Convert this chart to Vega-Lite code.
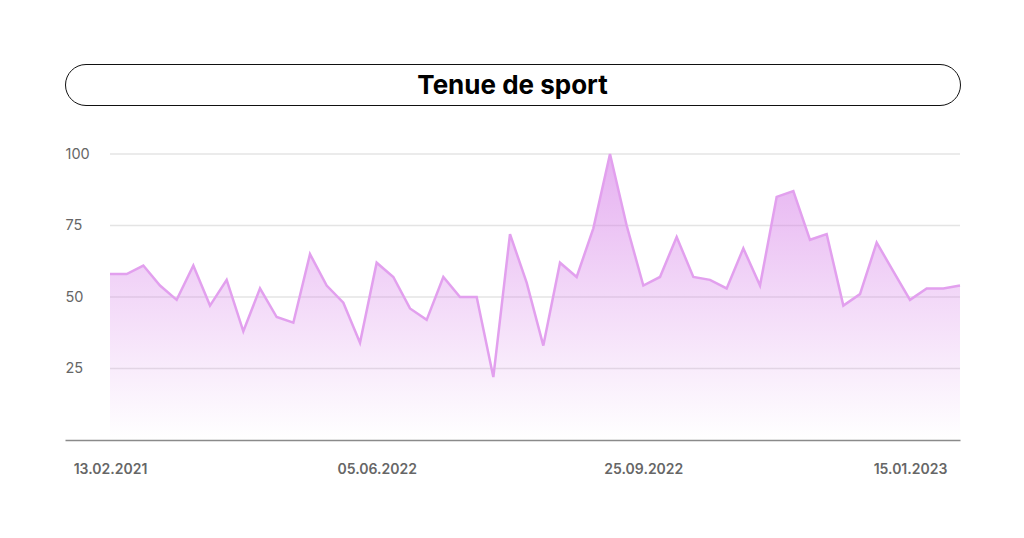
{
  "$schema": "https://vega.github.io/schema/vega-lite/v6.json",
  "background": "white",
  "padding": {"top": 63, "left": 64, "right": 65, "bottom": 5},
  "config": {
    "view": {"stroke": null},
    "font": "Inter"
  },
  "datasets": {
    "trend": [
      {"week": "2022-02-13", "value": 58},
      {"week": "2022-02-20", "value": 58},
      {"week": "2022-02-27", "value": 61},
      {"week": "2022-03-06", "value": 54},
      {"week": "2022-03-13", "value": 49},
      {"week": "2022-03-20", "value": 61},
      {"week": "2022-03-27", "value": 47},
      {"week": "2022-04-03", "value": 56},
      {"week": "2022-04-10", "value": 38},
      {"week": "2022-04-17", "value": 53},
      {"week": "2022-04-24", "value": 43},
      {"week": "2022-05-01", "value": 41},
      {"week": "2022-05-08", "value": 65},
      {"week": "2022-05-15", "value": 54},
      {"week": "2022-05-22", "value": 48},
      {"week": "2022-05-29", "value": 34},
      {"week": "2022-06-05", "value": 62},
      {"week": "2022-06-12", "value": 57},
      {"week": "2022-06-19", "value": 46},
      {"week": "2022-06-26", "value": 42},
      {"week": "2022-07-03", "value": 57},
      {"week": "2022-07-10", "value": 50},
      {"week": "2022-07-17", "value": 50},
      {"week": "2022-07-24", "value": 22},
      {"week": "2022-07-31", "value": 72},
      {"week": "2022-08-07", "value": 55},
      {"week": "2022-08-14", "value": 33},
      {"week": "2022-08-21", "value": 62},
      {"week": "2022-08-28", "value": 57},
      {"week": "2022-09-04", "value": 74},
      {"week": "2022-09-11", "value": 100},
      {"week": "2022-09-18", "value": 75},
      {"week": "2022-09-25", "value": 54},
      {"week": "2022-10-02", "value": 57},
      {"week": "2022-10-09", "value": 71},
      {"week": "2022-10-16", "value": 57},
      {"week": "2022-10-23", "value": 56},
      {"week": "2022-10-30", "value": 53},
      {"week": "2022-11-06", "value": 67},
      {"week": "2022-11-13", "value": 54},
      {"week": "2022-11-20", "value": 85},
      {"week": "2022-11-27", "value": 87},
      {"week": "2022-12-04", "value": 70},
      {"week": "2022-12-11", "value": 72},
      {"week": "2022-12-18", "value": 47},
      {"week": "2022-12-25", "value": 51},
      {"week": "2023-01-01", "value": 69},
      {"week": "2023-01-08", "value": 59},
      {"week": "2023-01-15", "value": 49},
      {"week": "2023-01-22", "value": 53},
      {"week": "2023-01-29", "value": 53},
      {"week": "2023-02-05", "value": 54}
    ]
  },
  "vconcat": [
    {
      "width": 895,
      "height": 41,
      "view": {"stroke": "#111111", "strokeWidth": 1, "cornerRadius": 20.5, "fill": "white"},
      "data": {"values": [{"t": "Tenue de sport"}]},
      "mark": {"type": "text", "fontSize": 26, "fontWeight": 700, "color": "#000000", "align": "center", "baseline": "middle", "font": "Inter", "dy": 1},
      "encoding": {"text": {"field": "t", "type": "nominal"}}
    },
    {
      "width": 895,
      "height": 286,
      "layer": [
        {
          "data": {"values": [{"g": 25}, {"g": 50}, {"g": 75}, {"g": 100}]},
          "mark": {"type": "rule", "color": "#e4e4e4", "strokeWidth": 1.5},
          "encoding": {
            "y": {"field": "g", "type": "quantitative"},
            "x": {"datum": {"year": 2022, "month": 2, "date": 13, "utc": true}, "type": "temporal"},
            "x2": {"datum": {"year": 2023, "month": 2, "date": 5, "utc": true}}
          }
        },
        {
          "data": {"name": "trend"},
          "mark": {
            "type": "area",
            "color": {
              "gradient": "linear",
              "x1": 0, "y1": 0, "x2": 0, "y2": 1,
              "stops": [
                {"offset": 0, "color": "rgba(214,128,232,0.62)"},
                {"offset": 0.5, "color": "rgba(214,128,232,0.30)"},
                {"offset": 1, "color": "rgba(214,128,232,0.0)"}
              ]
            }
          },
          "encoding": {
            "x": {"field": "week", "type": "temporal"},
            "y": {"field": "value", "type": "quantitative"}
          }
        },
        {
          "data": {"name": "trend"},
          "mark": {"type": "line", "color": "#e2a0ee", "strokeWidth": 2.5, "strokeJoin": "miter"},
          "encoding": {
            "x": {
              "field": "week",
              "type": "temporal",
              "title": null,
              "scale": {
                "type": "utc",
                "domain": [
                  {"year": 2022, "month": 1, "date": 25, "hours": 2, "minutes": 24, "utc": true},
                  {"year": 2023, "month": 2, "date": 5, "utc": true}
                ]
              },
              "axis": {
                "values": [
                  {"year": 2022, "month": 2, "date": 13, "utc": true},
                  {"year": 2022, "month": 6, "date": 5, "utc": true},
                  {"year": 2022, "month": 9, "date": 25, "utc": true},
                  {"year": 2023, "month": 1, "date": 15, "utc": true}
                ],
                "labelExpr": "datum.index == 0 ? '13.02.2021' : utcFormat(datum.value, '%d.%m.%Y')",
                "grid": false,
                "ticks": false,
                "domain": true,
                "domainColor": "#8a8a8a",
                "domainWidth": 1.5,
                "labelPadding": 22,
                "labelFont": "Inter",
                "labelFontSize": 14,
                "labelFontWeight": 600,
                "labelColor": "#666666",
                "labelFlush": false,
                "labelOverlap": false
              }
            },
            "y": {
              "field": "value",
              "type": "quantitative",
              "title": null,
              "scale": {"domain": [0, 100], "nice": false},
              "axis": {
                "values": [25, 50, 75, 100],
                "grid": false,
                "ticks": false,
                "tickSize": 0,
                "domain": false,
                "labelAlign": "left",
                "labelPadding": 0,
                "labelFont": "Inter",
                "labelFontSize": 14.5,
                "labelColor": "#666666"
              }
            }
          }
        }
      ]
    }
  ],
  "spacing": 40
}
